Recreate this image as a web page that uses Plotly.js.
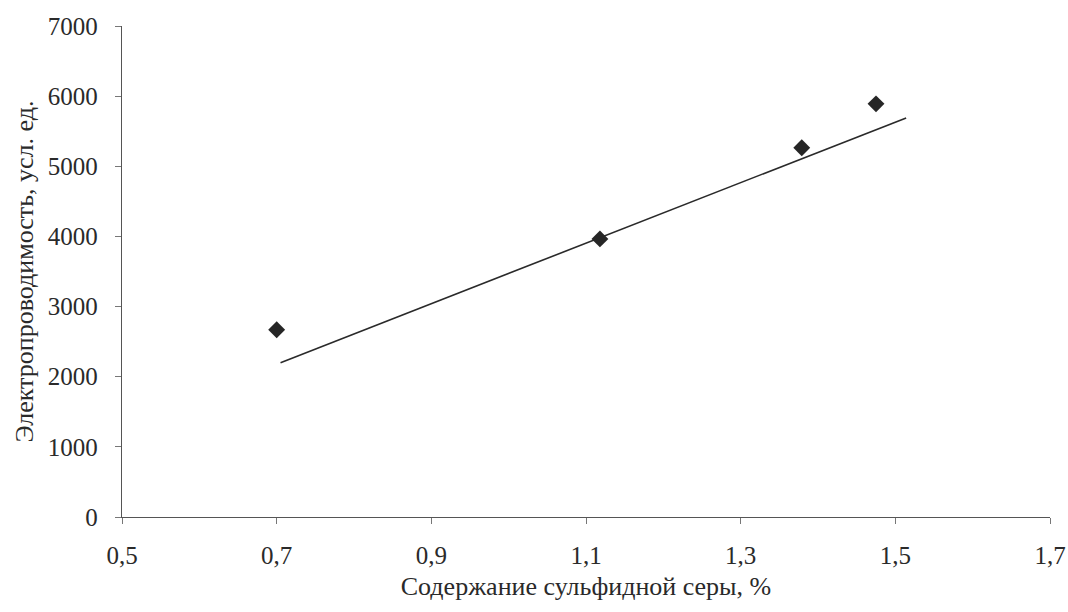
<!DOCTYPE html>
<html>
<head>
<meta charset="utf-8">
<script src="https://cdn.plot.ly/plotly-3.0.1.min.js"></script>
<style>
  html, body { margin: 0; padding: 0; background: #ffffff; }
  #chart { width: 1068px; height: 612px; }
</style>
</head>
<body>
<div id="chart"></div>
<script>
// Data
const sulfurContent = [0.70, 1.118, 1.379, 1.475];      // Содержание сульфидной серы, %
const conductivity  = [2670, 3965, 5265, 5890];         // Электропроводимость, усл. ед.
const trendX = [0.705, 1.514];
const trendY = [2200, 5690];

const xTickVals = [0.5, 0.7, 0.9, 1.1, 1.3, 1.5, 1.7];
const xTickText = ['0,5', '0,7', '0,9', '1,1', '1,3', '1,5', '1,7'];
const yTickVals = [0, 1000, 2000, 3000, 4000, 5000, 6000, 7000];
const yTickText = ['0', '1000', '2000', '3000', '4000', '5000', '6000', '7000'];

const xTitle = 'Содержание сульфидной серы, %';
const yTitle = 'Электропроводимость, усл. ед.';

const textColor = '#2a2a2a';
const fontFamily = '"Liberation Serif", "Times New Roman", serif';

const traces = [
  {
    x: trendX, y: trendY,
    type: 'scatter', mode: 'lines',
    line: { color: '#2a2a2a', width: 1.6 },
    hoverinfo: 'skip', showlegend: false
  },
  {
    x: sulfurContent, y: conductivity,
    type: 'scatter', mode: 'markers',
    marker: { symbol: 'diamond', size: 13, color: '#262626' },
    showlegend: false
  }
];

const layout = {
  width: 1068, height: 612,
  margin: { l: 122, r: 18, t: 26, b: 95 },
  paper_bgcolor: '#ffffff',
  plot_bgcolor: '#ffffff',
  font: { family: fontFamily, color: textColor, size: 24 },
  showlegend: false,
  xaxis: {
    range: [0.5, 1.7],
    tickvals: xTickVals, ticktext: xTickText,
    showgrid: false, zeroline: false,
    showline: true, linecolor: '#555', linewidth: 1.2,
    ticks: 'outside', ticklen: 6, tickcolor: '#777', tickwidth: 1,
    ticklabelstandoff: 10,
    tickfont: { size: 25, color: textColor, family: fontFamily },
    title: { text: xTitle, font: { size: 26, color: textColor, family: fontFamily }, standoff: 8 }
  },
  yaxis: {
    range: [0, 7000],
    tickvals: yTickVals, ticktext: yTickText,
    showgrid: false, zeroline: false,
    showline: true, linecolor: '#555', linewidth: 1.2,
    ticks: 'outside', ticklen: 6, tickcolor: '#777', tickwidth: 1,
    ticklabelstandoff: 12,
    tickfont: { size: 25, color: textColor, family: fontFamily },
    title: { text: yTitle, font: { size: 26, color: textColor, family: fontFamily }, standoff: 6 }
  }
};

Plotly.newPlot('chart', traces, layout, { displayModeBar: false, staticPlot: true });
</script>
</body>
</html>
